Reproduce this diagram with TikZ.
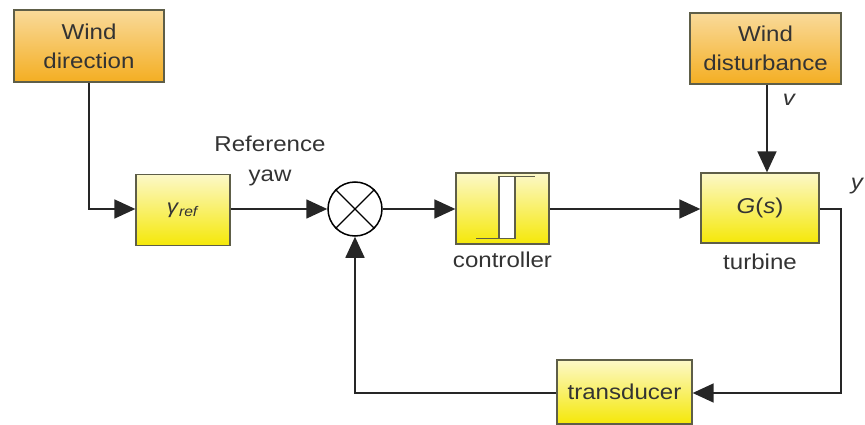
\documentclass[tikz,border=0pt]{standalone}
\usepackage{fontspec}
\setmainfont{Liberation Sans}[FakeStretch=1.12]
\usetikzlibrary{arrows.meta}
\definecolor{bordercol}{HTML}{5E5E48}
\definecolor{txtcol}{HTML}{333333}
\definecolor{ortop}{HTML}{F9DA9A}
\definecolor{orbot}{HTML}{F4AE22}
\definecolor{yetop}{HTML}{FCF8C8}
\definecolor{yebot}{HTML}{F5E808}
\tikzset{
  box/.style={draw=bordercol, line width=1.3pt, inner sep=0pt, align=center, text=txtcol,
    font=\fontsize{21.5}{29}\selectfont},
  orbox/.style={box, top color=ortop, bottom color=orbot},
  yebox/.style={box, top color=yetop, bottom color=yebot},
  lbl/.style={text=txtcol, inner sep=0pt, align=center, font=\fontsize{21.5}{30}\selectfont},
  conn/.style={line width=1.7pt, draw=black!85},
  arr/.style={conn, -{Triangle[length=21pt,width=19pt]}},
  hyst/.style={line width=1.6pt, draw=bordercol},
}
\begin{document}
\begin{tikzpicture}[x=1pt,y=-1pt]
\useasboundingbox (0,0) rectangle (865,425);
% boxes
\node[orbox, minimum width=150pt, minimum height=72pt] (wd) at (89,46) {Wind\\direction};
\node[orbox, minimum width=151pt, minimum height=71pt] (wdist) at (765.5,48.5) {Wind\\disturbance};
\node[yebox, minimum width=94pt, minimum height=71pt] (gref) at (183,210) {\fontsize{20}{22}\selectfont\textit{γ}\textsubscript{\textit{ref}}};
\node[yebox, minimum width=93pt, minimum height=71pt] (ctrl) at (502.5,208.5) {};
\node[yebox, minimum width=118pt, minimum height=70pt] (gs) at (760,208) {\textit{G}(\textit{s})};
\node[yebox, minimum width=135pt, minimum height=64pt] (tr) at (624.5,392) {transducer};
% summing junction
\node[draw=black, line width=1.5pt, circle, minimum size=54pt, inner sep=0pt, fill=white] (sum) at (355,209) {};
\draw[line width=1.3pt] (sum.45) -- (sum.225) (sum.135) -- (sum.315);
% hysteresis symbol
\fill[white] ([xshift=-3.5pt,yshift=-30pt]ctrl.center) rectangle ([xshift=12.5pt,yshift=32pt]ctrl.center);
\draw[hyst] ([xshift=-3.5pt,yshift=32pt]ctrl.center) -- ([xshift=32.5pt,yshift=32pt]ctrl.center);
\draw[hyst] ([xshift=-3.5pt,yshift=32pt]ctrl.center) -- ([xshift=-3.5pt,yshift=-30pt]ctrl.center);
\draw[hyst] ([xshift=12.5pt,yshift=32pt]ctrl.center) -- ([xshift=12.5pt,yshift=-30pt]ctrl.center);
\draw[hyst] ([xshift=-26.5pt,yshift=-30pt]ctrl.center) -- ([xshift=12.5pt,yshift=-30pt]ctrl.center);
% labels
\node[lbl] (reflbl) at (270,161) {Reference\\yaw};
\node[lbl, anchor=north] (ctrllbl) at ([yshift=-7pt]ctrl.south) {controller};
\node[lbl, anchor=north] (turblbl) at ([yshift=-10pt]gs.south) {turbine};
\node[lbl, font=\fontsize{21.5}{30}\selectfont\itshape] (vlbl) at (789,100) {v};
\node[lbl, font=\fontsize{21.5}{30}\selectfont\itshape] (ylbl) at (857,186) {y};
% connectors
\coordinate (c1) at (89,209);
\draw[arr] (wd.south) -- (c1) -- (gref.west |- c1);
\draw[arr] (gref.east |- sum) -- (sum.west);
\draw[arr] (sum.east) -- (ctrl.west |- sum);
\draw[arr] (ctrl.east |- sum) -- (gs.west |- sum);
\coordinate (d1) at (767,0);
\draw[arr] (wdist.south -| d1) -- (gs.north -| d1);
\coordinate (c2) at (841,209);
\coordinate (c3) at (841,393);
\draw[arr] (gs.east |- c2) -- (c2) -- (c3) -- (tr.east |- c3);
\coordinate (c4) at (sum.center |- c3);
\draw[arr] (tr.west |- c3) -- (c4) -- (sum.south);
\end{tikzpicture}
\end{document}
